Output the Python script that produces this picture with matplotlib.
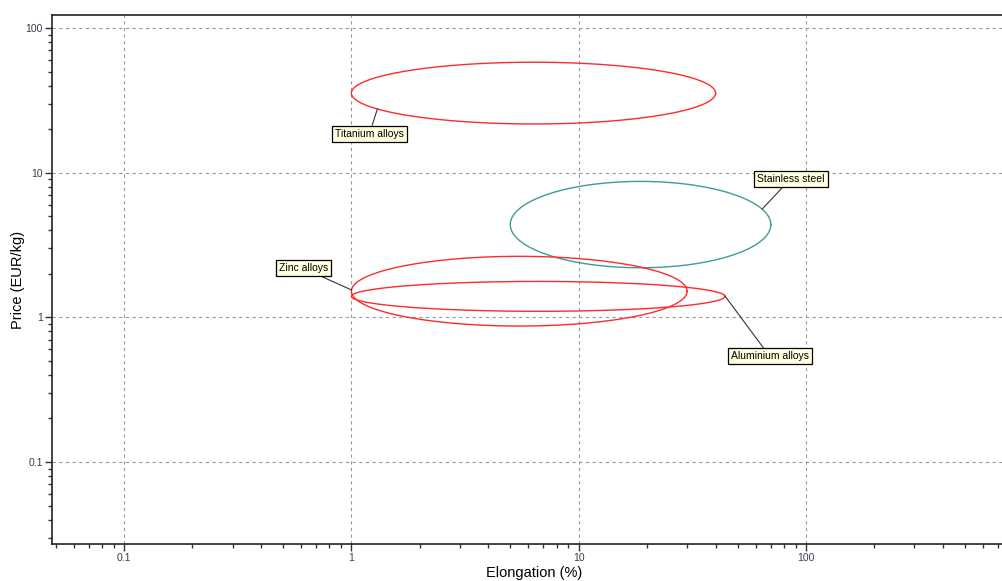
import numpy as np
import matplotlib
matplotlib.use('Agg')
import matplotlib.pyplot as plt
from matplotlib.ticker import LogLocator, FixedLocator, NullFormatter

plt.rcParams['font.family'] = ['Liberation Sans', 'DejaVu Sans']

# material bubbles: ranges of elongation (%) and price (EUR/kg)
materials = ['Titanium alloys', 'Stainless steel', 'Zinc alloys', 'Aluminium alloys']
elong_min = [1.0, 5.0, 1.0, 1.0]
elong_max = [40.0, 70.0, 30.0, 44.0]
price_min = [21.7, 2.2, 0.87, 1.1]
price_max = [58.0, 8.7, 2.64, 1.77]
colors = ['#ff2a2a', '#3c9c9c', '#ff2a2a', '#ff2a2a']

# label placement (data coords) and leader anchor angle on the ellipse (deg)
label_x = [1.2, 85.7, 0.615, 69.2]
label_y = [18.5, 9.09, 2.18, 0.538]
anchor_deg = [211, 21, 178, 2]

fig = plt.figure(figsize=(10.02, 5.81), dpi=100)
ax = fig.add_axes([0.0519, 0.0637, 0.9481, 0.9105])

t = np.linspace(0, 2 * np.pi, 400)
for i, name in enumerate(materials):
    cx = (np.log10(elong_min[i]) + np.log10(elong_max[i])) / 2
    rx = (np.log10(elong_max[i]) - np.log10(elong_min[i])) / 2
    cy = (np.log10(price_min[i]) + np.log10(price_max[i])) / 2
    ry = (np.log10(price_max[i]) - np.log10(price_min[i])) / 2
    ex = 10 ** (cx + rx * np.cos(t))
    ey = 10 ** (cy + ry * np.sin(t))
    ax.plot(ex, ey, color=colors[i], lw=1.0, zorder=3)

    a = np.radians(anchor_deg[i])
    px = 10 ** (cx + rx * np.cos(a))
    py = 10 ** (cy + ry * np.sin(a))
    ax.annotate(name, xy=(px, py), xytext=(label_x[i], label_y[i]),
                ha='center', va='center', fontsize=7.5, color='black',
                bbox=dict(boxstyle='square,pad=0.3', fc='#ffffe0', ec='black', lw=0.9),
                arrowprops=dict(arrowstyle='-', color='#333333', lw=0.8,
                                shrinkA=0, shrinkB=0), zorder=5)

ax.set_xscale('log')
ax.set_yscale('log')
ax.set_xlim(0.0482, 728)
ax.set_ylim(0.0271, 123)

ax.xaxis.set_major_locator(FixedLocator([0.1, 1, 10, 100]))
ax.yaxis.set_major_locator(FixedLocator([0.1, 1, 10, 100]))
ax.set_xticklabels(['0.1', '1', '10', '100'])
ax.set_yticklabels(['0.1', '1', '10', '100'])
ax.xaxis.set_minor_locator(LogLocator(base=10, subs=np.arange(2, 10), numticks=20))
ax.yaxis.set_minor_locator(LogLocator(base=10, subs=np.arange(2, 10), numticks=20))
ax.xaxis.set_minor_formatter(NullFormatter())
ax.yaxis.set_minor_formatter(NullFormatter())

ax.tick_params(which='major', direction='out', length=5, width=1, labelsize=7.5,
               labelcolor='#3c3c50', color='#333333', pad=1.5)
ax.tick_params(which='minor', direction='out', length=3, width=1, color='#333333')

ax.grid(True, which='major', color='#999999', lw=0.8, ls=(0, (3, 3)))
ax.set_axisbelow(True)

for s in ['left', 'bottom', 'top']:
    ax.spines[s].set_color('#222222')
    ax.spines[s].set_linewidth(1.2)
ax.spines['right'].set_visible(False)

ax.set_xlabel('Elongation (%)', fontsize=10.5)
ax.set_ylabel('Price (EUR/kg)', fontsize=10.5)
ax.xaxis.set_label_coords(0.507, -0.041)
ax.yaxis.set_label_coords(-0.028, 0.5)

fig.savefig('out.png', dpi=100)
